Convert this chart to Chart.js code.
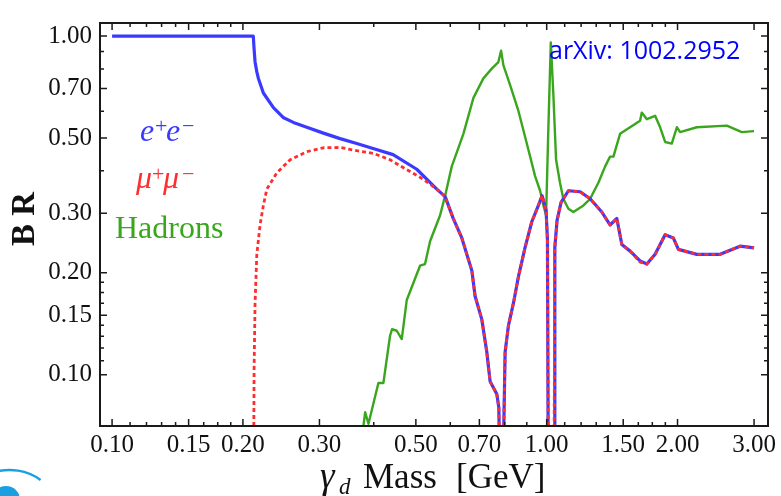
<!DOCTYPE html>
<html>
<head>
<meta charset="utf-8">
<script src="https://cdn.jsdelivr.net/npm/chart.js@4.4.1/dist/chart.umd.min.js"></script>
<style>
  html, body { margin: 0; padding: 0; background: #fff; }
  #wrap { width: 781px; height: 496px; }
</style>
</head>
<body>
<div id="wrap"><canvas id="myChart" width="781" height="496"></canvas></div>
<script>
  // tick values (GeV on x, branching ratio on y)
  const xTicks = [0.10, 0.15, 0.20, 0.30, 0.50, 0.70, 1.00, 1.50, 2.00, 3.00];
  const xMinorTicks = [0.11, 0.12, 0.13, 0.14, 0.1625, 0.175, 0.1875, 0.4, 0.6, 0.8, 0.9,
                       1.1, 1.2, 1.3, 1.4, 1.625, 1.75, 1.875];
  const yTicks = [0.10, 0.15, 0.20, 0.30, 0.50, 0.70, 1.00];
  const yMinorTicks = [0.11, 0.12, 0.13, 0.14, 0.1625, 0.175, 0.1875, 0.4, 0.6, 0.8, 0.9];

  // e+e- branching ratio
  const eeMass = [0.10, 0.2113, 0.2122, 0.2133, 0.2153, 0.2171, 0.2229, 0.2351, 0.2475, 0.2613,
                  0.2805, 0.3064, 0.3346, 0.3656, 0.3986, 0.4432, 0.5024, 0.5586, 0.5839, 0.609,
                  0.6378, 0.6726, 0.6844, 0.7091, 0.7281, 0.741, 0.7677, 0.776, 0.779, 0.795,
                  0.8023, 0.8165, 0.8384, 0.8609, 0.8919, 0.9241, 0.957, 0.9759, 0.9968, 1.004,
                  1.008, 1.04, 1.044, 1.0566, 1.0792, 1.1218, 1.194, 1.259, 1.339, 1.399,
                  1.45, 1.489, 1.556, 1.64, 1.70, 1.776, 1.873, 1.956, 2.009, 2.215,
                  2.506, 2.786, 3.00];
  const eeBR   = [1.00, 1.00, 0.916, 0.839, 0.784, 0.750, 0.679, 0.6145, 0.575, 0.556,
                  0.538, 0.517, 0.498, 0.4816, 0.4659, 0.4467, 0.4044, 0.3533, 0.3357, 0.290,
                  0.2535, 0.203, 0.1705, 0.1457, 0.1167, 0.0956, 0.0877, 0.080, 0.060, 0.060,
                  0.1167, 0.1397, 0.1627, 0.1948, 0.2377, 0.283, 0.3162, 0.338, 0.3059, 0.25,
                  0.06, 0.06, 0.2377, 0.2862, 0.3227, 0.3494, 0.347, 0.3308, 0.3024, 0.2769,
                  0.2893, 0.2424, 0.2318, 0.217, 0.2123, 0.2268, 0.2591, 0.2535, 0.2345, 0.2268,
                  0.2268, 0.2397, 0.2371];

  // mu+mu- branching ratio
  const mumuMass = [0.2113, 0.2122, 0.2133, 0.2153, 0.219, 0.2229, 0.227, 0.2393, 0.2569, 0.2805,
                    0.3064, 0.3346, 0.3656, 0.3993, 0.4361, 0.4765, 0.5203, 0.5586, 0.5839, 0.609,
                    0.6378, 0.6726, 0.6844, 0.7091, 0.7281, 0.741, 0.7677, 0.776, 0.779, 0.795,
                    0.8023, 0.8165, 0.8384, 0.8609, 0.8919, 0.9241, 0.957, 0.9759, 0.9968, 1.004,
                    1.008, 1.04, 1.044, 1.0566, 1.0792, 1.1218, 1.194, 1.259, 1.339, 1.399,
                    1.45, 1.489, 1.556, 1.64, 1.70, 1.776, 1.873, 1.956, 2.009, 2.215,
                    2.506, 2.786, 3.00];
  const mumuBR   = [0.03, 0.1045, 0.1627, 0.2268, 0.2769, 0.3162, 0.3533, 0.3946, 0.4312, 0.4557,
                    0.468, 0.469, 0.4587, 0.4506, 0.4312, 0.4035, 0.3776, 0.3533, 0.3357, 0.290,
                    0.2535, 0.203, 0.1705, 0.1457, 0.1167, 0.0956, 0.0877, 0.080, 0.060, 0.060,
                    0.1167, 0.1397, 0.1627, 0.1948, 0.2377, 0.283, 0.3162, 0.338, 0.3059, 0.25,
                    0.06, 0.06, 0.2377, 0.2862, 0.3227, 0.3494, 0.347, 0.3308, 0.3024, 0.2769,
                    0.2893, 0.2424, 0.2318, 0.215, 0.2123, 0.2268, 0.2591, 0.2535, 0.2345, 0.2268,
                    0.2268, 0.2397, 0.2371];

  // hadronic branching ratio
  const hadMass = [0.3756, 0.3822, 0.389, 0.41, 0.421, 0.4361, 0.4407, 0.4518, 0.464, 0.4765,
                   0.5112, 0.5249, 0.5391, 0.5685, 0.5839, 0.6048, 0.6432, 0.6783, 0.715, 0.7475,
                   0.7741, 0.7853, 0.7952, 0.8239, 0.8609, 0.900, 0.9404, 0.9656, 0.9827, 0.9968,
                   1.009, 1.022, 1.036, 1.051, 1.073, 1.092, 1.1218, 1.152, 1.215, 1.259,
                   1.315, 1.363, 1.399, 1.424, 1.475, 1.515, 1.64, 1.655, 1.70, 1.776,
                   1.824, 1.873, 1.94, 1.993, 2.028, 2.215, 2.597, 2.811, 3.00];
  const hadBR   = [0.065, 0.0775, 0.0717, 0.0946, 0.0946, 0.1304, 0.1363, 0.1349, 0.1275, 0.1663,
                   0.2099, 0.2123, 0.2478, 0.2959, 0.338, 0.4124, 0.5146, 0.6568, 0.750, 0.8015,
                   0.838, 0.9052, 0.8195, 0.717, 0.6012, 0.4816, 0.386, 0.3494, 0.3162, 0.2959,
                   0.538, 0.957, 0.671, 0.4312, 0.369, 0.3308, 0.3093, 0.3024, 0.3162, 0.3308,
                   0.369, 0.4124, 0.4406, 0.4406, 0.5146, 0.5264, 0.5626, 0.5944, 0.5684, 0.5815,
                   0.538, 0.4868, 0.4816, 0.538, 0.5205, 0.538, 0.5441, 0.5205, 0.524];

  const BLUE = "#3a3aff";
  const RED = "#ff2e2e";
  const GREEN = "#3aa61e";
  const SERIF = "'Liberation Serif', 'DejaVu Serif', serif";

  function toPoints(xs, ys) {
    return xs.map((x, i) => ({ x: x, y: ys[i] }));
  }

  // inward tick marks on all four sides + box frame
  const frameTicks = {
    id: "frameTicks",
    afterDatasetsDraw(chart) {
      const { ctx, chartArea: a } = chart;
      const sx = chart.scales.x, sy = chart.scales.y;
      ctx.save();
      ctx.strokeStyle = "#1a1a1a";
      ctx.lineWidth = 1.5;
      ctx.beginPath();
      const markX = (v, len) => {
        const px = sx.getPixelForValue(v);
        ctx.moveTo(px, a.bottom); ctx.lineTo(px, a.bottom - len);
        ctx.moveTo(px, a.top); ctx.lineTo(px, a.top + len);
      };
      const markY = (v, len) => {
        const py = sy.getPixelForValue(v);
        ctx.moveTo(a.left, py); ctx.lineTo(a.left + len, py);
        ctx.moveTo(a.right, py); ctx.lineTo(a.right - len, py);
      };
      xTicks.forEach(v => markX(v, 7));
      xMinorTicks.forEach(v => markX(v, 4));
      yTicks.forEach(v => markY(v, 7));
      yMinorTicks.forEach(v => markY(v, 4));
      ctx.stroke();
      ctx.lineWidth = 2;
      ctx.strokeRect(a.left, a.top, a.right - a.left, a.bottom - a.top);
      ctx.restore();
    }
  };

  // axis titles, in-plot labels, arXiv note
  const annotations = {
    id: "annotations",
    afterDraw(chart) {
      const ctx = chart.ctx;
      ctx.save();
      ctx.textBaseline = "alphabetic";
      ctx.textAlign = "left";

      // y title
      ctx.save();
      ctx.translate(25, 219);
      ctx.rotate(-Math.PI / 2);
      ctx.textAlign = "center";
      ctx.textBaseline = "middle";
      ctx.fillStyle = "#111";
      ctx.font = "bold 33px " + SERIF;
      ctx.fillText("B R", 0, 0);
      ctx.restore();

      // x title
      ctx.fillStyle = "#111";
      ctx.font = "italic 37px " + SERIF;
      ctx.fillText("γ", 320, 488);
      ctx.font = "italic 23px " + SERIF;
      ctx.fillText("d", 339, 494);
      ctx.font = "35px " + SERIF;
      ctx.fillText("Mass", 363, 488);
      ctx.fillText("[GeV]", 456, 488);

      // series labels
      ctx.fillStyle = BLUE;
      ctx.font = "italic 32px " + SERIF;
      ctx.fillText("e", 140, 141);
      ctx.fillText("e", 166, 141);
      ctx.font = "22px " + SERIF;
      ctx.fillText("+", 155, 133);
      ctx.fillText("\u2212", 182, 133);

      ctx.fillStyle = RED;
      ctx.font = "italic 32px " + SERIF;
      ctx.fillText("μ", 136, 188);
      ctx.fillText("μ", 163, 188);
      ctx.font = "22px " + SERIF;
      ctx.fillText("+", 152, 181);
      ctx.fillText("\u2212", 182, 181);

      ctx.fillStyle = GREEN;
      ctx.font = "32px " + SERIF;
      ctx.fillText("Hadrons", 115, 238);

      ctx.fillStyle = "#0000ff";
      ctx.font = "25px 'Open Sans', 'Noto Sans', sans-serif";
      ctx.fillText("arXiv: 1002.2952", 549, 59);

      // cropped logo in the corner
      ctx.strokeStyle = "#1a9fe0";
      ctx.fillStyle = "#1a9fe0";
      ctx.lineWidth = 2.5;
      ctx.beginPath();
      ctx.arc(10, 522, 52, Math.PI * 1.05, Math.PI * 1.7);
      ctx.stroke();
      ctx.beginPath();
      ctx.arc(6, 500, 14, 0, Math.PI * 2);
      ctx.fill();
      ctx.restore();
    }
  };

  const ctx = document.getElementById("myChart");
  const config = {
    type: "line",
    data: {
      datasets: [
        {
          label: "mu+mu-",
          data: toPoints(mumuMass, mumuBR),
          borderColor: RED,
          borderWidth: 2.8,
          borderDash: [4, 3],
          order: 0,
        },
        {
          label: "e+e-",
          data: toPoints(eeMass, eeBR),
          borderColor: BLUE,
          borderWidth: 3.2,
          order: 1,
        },
        {
          label: "Hadrons",
          data: toPoints(hadMass, hadBR),
          borderColor: GREEN,
          borderWidth: 2.4,
          order: 2,
        },
      ],
    },
    options: {
      responsive: false,
      animation: false,
      devicePixelRatio: 1,
      layout: { padding: { top: 13, right: 13, left: 0, bottom: 0 } },
      elements: {
        point: { radius: 0 },
        line: { tension: 0, fill: false, borderCapStyle: "butt", borderJoinStyle: "round" },
      },
      datasets: { line: { clip: 0 } },
      plugins: {
        legend: { display: false },
        tooltip: { enabled: false },
      },
      scales: {
        x: {
          type: "logarithmic",
          min: 0.0938,
          max: 3.23,
          grid: { display: false, drawTicks: false },
          border: { display: false },
          ticks: {
            autoSkip: false,
            maxRotation: 0,
            padding: 4,
            color: "#111",
            font: { family: SERIF, size: 25 },
            callback: (v) => Number(v).toFixed(2),
          },
          afterBuildTicks: (s) => { s.ticks = xTicks.map((v) => ({ value: v })); },
          afterFit: (s) => { s.height = 70; },
        },
        y: {
          type: "logarithmic",
          min: 0.0706,
          max: 1.093,
          grid: { display: false, drawTicks: false },
          border: { display: false },
          ticks: {
            autoSkip: false,
            padding: 8,
            color: "#111",
            font: { family: SERIF, size: 25 },
            callback: (v) => Number(v).toFixed(2),
          },
          afterBuildTicks: (s) => { s.ticks = yTicks.map((v) => ({ value: v })); },
          afterFit: (s) => { s.width = 100; },
        },
      },
    },
    plugins: [frameTicks, annotations],
  };

  const myChart = new Chart(ctx, config);
</script>
</body>
</html>
